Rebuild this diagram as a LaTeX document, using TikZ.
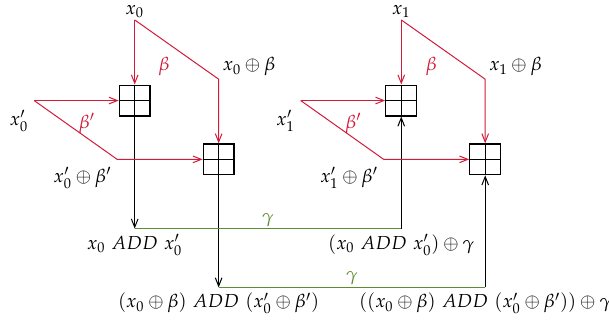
\documentclass[tikz,border=0pt]{standalone}
\usepackage{mathpazo}
\usetikzlibrary{arrows.meta}
\definecolor{kred}{HTML}{D01C3A}
\definecolor{kgrn}{HTML}{5E8C31}
\tikzset{
  lab/.style   ={inner sep=1pt},
  labr/.style  ={inner sep=1pt, text=kred},
  labg/.style  ={inner sep=1pt, text=kgrn},
  addbox/.style={draw=black, line width=0.75pt, minimum size=0.65cm, inner sep=0pt,
                 path picture={\draw[line width=0.75pt]
                   (path picture bounding box.north) -- (path picture bounding box.south)
                   (path picture bounding box.west) -- (path picture bounding box.east);}},
  rarr/.style  ={-{Straight Barb[length=5pt,width=4pt]}, line width=0.6pt, draw=kred},
  barr/.style  ={-{Straight Barb[length=5pt,width=4pt]}, line width=0.6pt, draw=black},
  gline/.style ={line width=0.8pt, draw=kgrn},
}
\begin{document}
\begin{tikzpicture}[font=\fontsize{11.3}{13.5}\selectfont]
  \useasboundingbox (0,0) rectangle (12.84,6.79);

  % ---- the four adders ----
  \node[addbox] (box1) at (2.84,4.67)  {};
  \node[addbox] (box2) at (4.61,3.43)  {};
  \node[addbox] (box3) at (8.46,4.67)  {};
  \node[addbox] (box4) at (10.23,3.43) {};

  % ---- left pair: x0, x0' ----
  \coordinate (x0)  at (2.84,6.37);
  \coordinate (b0)  at (4.61,5.12);
  \coordinate (xp0) at (0.72,4.67);
  \coordinate (c0)  at (2.47,3.43);
  \node[lab, above] (lx0) at (x0) {$x_0$};
  \node[labr] (lbeta0) at (3.46,5.38) {$\beta$};
  \node[lab]  (lxb0)   at (5.25,5.38) {$x_0 \oplus \beta$};
  \node[lab]  (lxp0)   at (0.40,4.24) {$x'_0$};
  \node[labr] (lbp0)   at (1.83,4.18) {$\beta'$};
  \node[lab]  (lxpb0)  at (1.74,3.04) {$x'_0 \oplus \beta'$};

  % ---- right pair: x1, x1' ----
  \coordinate (x1)  at (8.46,6.37);
  \coordinate (b1)  at (10.23,5.12);
  \coordinate (xp1) at (6.34,4.67);
  \coordinate (c1)  at (8.09,3.43);
  \node[lab, above] (lx1) at (x1) {$x_1$};
  \node[labr] (lbeta1) at (9.09,5.38)  {$\beta$};
  \node[lab]  (lxb1)   at (10.87,5.38) {$x_1 \oplus \beta$};
  \node[lab]  (lxp1)   at (6.02,4.24)  {$x'_1$};
  \node[labr] (lbp1)   at (7.45,4.18)  {$\beta'$};
  \node[lab]  (lxpb1)  at (7.36,3.04)  {$x'_1 \oplus \beta'$};

  % ---- sums and the gamma links ----
  \coordinate (s0) at (2.84,1.97);
  \coordinate (t0) at (8.46,1.97);
  \coordinate (s1) at (4.61,0.73);
  \coordinate (t1) at (10.23,0.73);
  \node[lab, below=2pt] (ls0) at (s0) {$x_0~ADD~x'_0$};
  \node[lab, below=2pt] (lt0) at (t0) {$(x_0~ADD~x'_0) \oplus \gamma$};
  \node[lab, below=2pt] (ls1) at (s1) {$(x_0 \oplus \beta)~ADD~(x'_0 \oplus \beta')$};
  \node[lab, below=2pt] (lt1) at (t1) {$((x_0 \oplus \beta)~ADD~(x'_0 \oplus \beta')) \oplus \gamma$};

  \draw[barr] (box1.south) -- (s0);
  \draw[barr] (box2.south) -- (s1);
  \draw[gline] (s0) -- node[labg, above] (lg0) {$\gamma$} (t0);
  \draw[gline] (s1) -- node[labg, above] (lg1) {$\gamma$} (t1);
  \draw[barr] (t0) -- (box3.south);
  \draw[barr] (t1) -- (box4.south);

  % ---- red inputs ----
  \draw[rarr] (x0) -- (box1.north);
  \draw[rarr] (x0) -- (b0) -- (box2.north);
  \draw[rarr] (xp0) -- (box1.west);
  \draw[rarr] (xp0) -- (c0) -- (box2.west);
  \draw[rarr] (x1) -- (box3.north);
  \draw[rarr] (x1) -- (b1) -- (box4.north);
  \draw[rarr] (xp1) -- (box3.west);
  \draw[rarr] (xp1) -- (c1) -- (box4.west);

\end{tikzpicture}
\end{document}
